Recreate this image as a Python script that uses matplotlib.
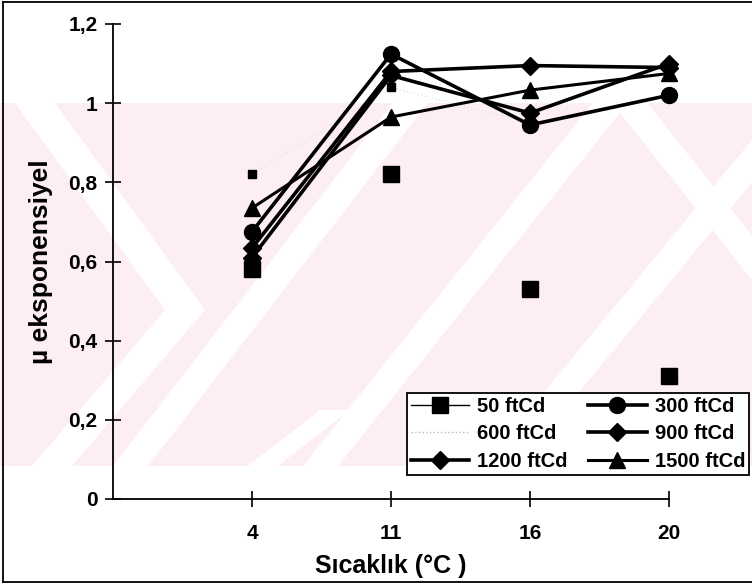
import numpy as np
import matplotlib
matplotlib.use("Agg")
import matplotlib.pyplot as plt
from matplotlib.lines import Line2D
from matplotlib.patches import Polygon, Rectangle

plt.rcParams['font.family'] = ['Liberation Sans', 'DejaVu Sans']
plt.rcParams['font.weight'] = 'bold'

# ---------------- data ----------------
categories = ['4', '11', '16', '20']
s50 = [0.58, 0.82, 0.53, 0.31]
s600 = [0.82, 1.04, 0.95, 1.02]
s300 = [0.675, 1.124, 0.945, 1.02]
s900 = [0.634, 1.08, 1.095, 1.09]
s1200 = [0.61, 1.07, 0.975, 1.10]
s1500 = [0.735, 0.965, 1.033, 1.075]
yticks = [0, 0.2, 0.4, 0.6, 0.8, 1.0, 1.2]
ytick_labels = ['0', '0,2', '0,4', '0,6', '0,8', '1', '1,2']
labels = ['50 ftCd', '600 ftCd', '1200 ftCd', '300 ftCd', '900 ftCd', '1500 ftCd']

W, H = 752, 585
fig = plt.figure(figsize=(W / 100, H / 100), dpi=100)


def fp(x, y):
    return (x / W, 1 - y / H)


# ---------------- watermark (decorative background) ----------------
band_top, band_bot = 103, 466
band = Rectangle(fp(0, band_bot), 1, (band_bot - band_top) / H, transform=fig.transFigure,
                 facecolor='#fdeef1', edgecolor='none', zorder=0)
fig.add_artist(band)


def stripe(p0, p1, w):
    (x0, y0), (x1, y1) = p0, p1
    pts = [fp(x0, y0), fp(x0 + w, y0), fp(x1 + w, y1), fp(x1, y1)]
    poly = Polygon(pts, closed=True, transform=fig.transFigure, facecolor='white',
                   edgecolor='none', zorder=0.5)
    fig.add_artist(poly)
    poly.set_clip_path(band)


stripe((15, 103), (165, 310), 40)
stripe((165, 310), (20, 480), 40)
stripe((110, 470), (395, 100), 35)
stripe((300, 470), (595, 100), 35)
stripe((480, 470), (760, 130), 35)
stripe((610, 100), (760, 290), 35)
stripe((320, 410), (230, 480), 30)

# outer frame of the picture
for (xa, ya), (xb, yb) in [((3, 2), (760, 2)), ((3, 2), (3, 582)), ((3, 582), (760, 582))]:
    fig.add_artist(Line2D([xa / W, xb / W], [1 - ya / H, 1 - yb / H], transform=fig.transFigure,
                          color='black', lw=1.3, zorder=1))

# ---------------- axes ----------------
ax = fig.add_axes([113 / W, 1 - 499 / H, (669 - 113) / W, (499 - 24) / H])
ax.patch.set_alpha(0)
ax.set_zorder(2)
x = np.arange(len(categories))

kw = dict(clip_on=False)
ax.plot(x, s600, color='#e6e6e6', lw=1, ls=':', marker='s', ms=6, mfc='black', mec='black', zorder=2, **kw)
ax.plot(x, s50, ls='none', marker='s', ms=11, color='black', zorder=3, **kw)
ax.plot(x, s300, color='black', lw=2.6, marker='o', ms=11.5, zorder=3, **kw)
ax.plot(x, s900, color='black', lw=2.6, marker='D', ms=9.5, zorder=3, **kw)
ax.plot(x, s1200, color='black', lw=2.6, marker='D', ms=9.5, zorder=3, **kw)
ax.plot(x, s1500, color='black', lw=2.2, marker='^', ms=12, zorder=3, **kw)

ax.set_xlim(-1, 3)
ax.set_ylim(0, 1.2)
ax.set_xticks(x, categories)
ax.set_yticks(yticks, ytick_labels)
for s in ['top', 'right']:
    ax.spines[s].set_visible(False)
for s in ['left', 'bottom']:
    ax.spines[s].set_linewidth(1.3)
ax.tick_params(axis='both', direction='inout', length=12, width=1.2, labelsize=15)
ax.tick_params(axis='y', pad=5)
ax.tick_params(axis='x', pad=12)
for t in ax.get_xticklabels() + ax.get_yticklabels():
    t.set_fontweight('bold')

ax.set_xlabel('Sıcaklık (°C )', fontsize=18, fontweight='bold', labelpad=8)
ax.set_ylabel('µ eksponensiyel', fontsize=19, fontweight='bold', labelpad=11)

# ---------------- legend ----------------
handles = [
    Line2D([], [], color='black', lw=1, marker='s', ms=11),
    Line2D([], [], color='#bbbbbb', lw=1, ls=':'),
    Line2D([], [], color='black', lw=2.6, marker='D', ms=9.5),
    Line2D([], [], color='black', lw=2.6, marker='o', ms=11.5),
    Line2D([], [], color='black', lw=2.6, marker='D', ms=9.5),
    Line2D([], [], color='black', lw=2.2, marker='^', ms=12),
]
leg = fig.legend(handles, labels, ncol=2, loc='upper left', bbox_to_anchor=fp(407, 393),
                 bbox_transform=fig.transFigure, borderaxespad=0, fancybox=False,
                 edgecolor='black', framealpha=1, facecolor='white',
                 prop={'family': 'Liberation Sans', 'weight': 'bold', 'size': 14.5},
                 handlelength=2.9, handletextpad=0.4, columnspacing=1.0,
                 labelspacing=0.42, borderpad=0.2)
leg.get_frame().set_linewidth(1.3)
leg.set_zorder(5)

fig.savefig('out.png', dpi=100)
